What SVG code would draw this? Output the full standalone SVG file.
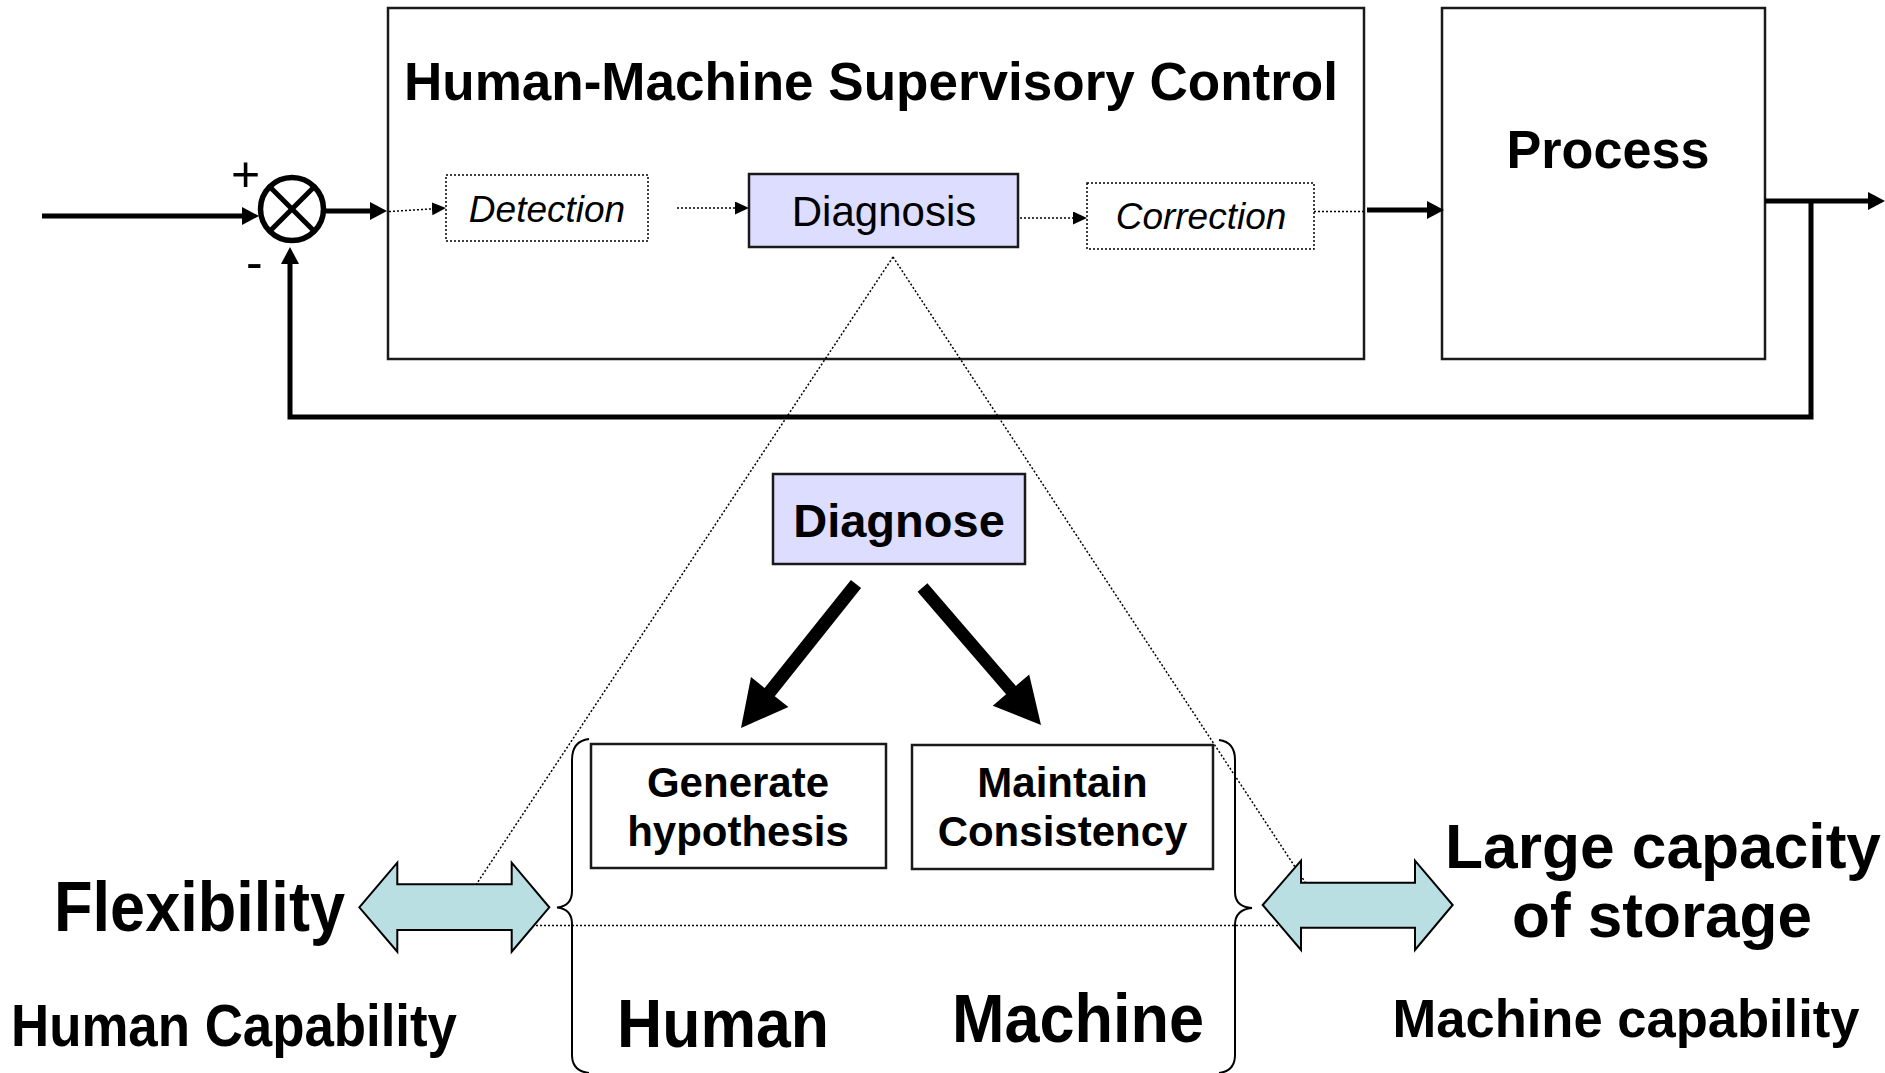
<svg xmlns="http://www.w3.org/2000/svg" width="1885" height="1073" viewBox="0 0 1885 1073">
<defs>
<style>
.t{font-family:"Liberation Sans",Arial,sans-serif;fill:#000}
.b{font-weight:bold}
.i{font-style:italic}
.box{fill:#fff;stroke:#1a1a1a;stroke-width:2.5}
.nb{fill:none;stroke:#1a1a1a;stroke-width:2.5}
.dbox{fill:#fff;stroke:#000;stroke-width:1.5;stroke-dasharray:2 2}
.lav{fill:#DDDDFF;stroke:#1a1a1a;stroke-width:2.5}
.thick{fill:none;stroke:#000;stroke-width:5}
.dot{fill:none;stroke:#000;stroke-width:1.5;stroke-dasharray:2 2}
.dbl{fill:#B9DFE2;stroke:#000;stroke-width:2;stroke-linejoin:miter}
.brace{fill:none;stroke:#000;stroke-width:2}
.big{fill:#000;stroke:none}
</style>
<marker id="ah" markerUnits="userSpaceOnUse" markerWidth="18" markerHeight="18" refX="2" refY="9" orient="auto"><path d="M0,0 L17,9 L0,18 z" fill="#000"/></marker>
<marker id="ad" markerUnits="userSpaceOnUse" markerWidth="15" markerHeight="14" refX="1" refY="6.5" orient="auto"><path d="M0,0 L14,6.5 L0,13 z" fill="#000"/></marker>
</defs>
<rect x="0" y="0" width="1885" height="1073" fill="#fff"/>

<g id="hmsc">
<rect class="box" x="388" y="8" width="976" height="351"/>
<text class="t b" x="871" y="100" font-size="54" text-anchor="middle" textLength="934" lengthAdjust="spacingAndGlyphs">Human-Machine Supervisory Control</text>
</g>
<g id="process">
<rect class="box" x="1442" y="8" width="323" height="351"/>
<text class="t b" x="1608" y="168" font-size="53" text-anchor="middle" textLength="203" lengthAdjust="spacingAndGlyphs">Process</text>
</g>

<g id="connectors">
<line class="thick" x1="42" y1="216" x2="244" y2="216" marker-end="url(#ah)"/>
<line class="thick" x1="324" y1="211" x2="372" y2="211" marker-end="url(#ah)"/>
<line class="thick" x1="1367" y1="210" x2="1429" y2="210" marker-end="url(#ah)"/>
<line class="thick" x1="1765" y1="201" x2="1870" y2="201" marker-end="url(#ah)"/>
<polyline class="thick" points="1811,199 1811,417 290,417 290,262" marker-end="url(#ah)"/>
<line class="dot" x1="389" y1="211.5" x2="433" y2="208.8" marker-end="url(#ad)"/>
<line class="dot" x1="677" y1="208" x2="736" y2="208" marker-end="url(#ad)"/>
<line class="dot" x1="1020" y1="218" x2="1074" y2="218" marker-end="url(#ad)"/>
<line class="dot" x1="1314" y1="211.5" x2="1364" y2="211.5"/>
<line class="dot" x1="893" y1="257" x2="476.5" y2="884"/>
<line class="dot" x1="893" y1="257" x2="1305" y2="882"/>
<line class="dot" x1="520" y1="925.5" x2="1290" y2="925.5"/>
<polygon class="big" points="861.1,588.1 774.8,696.2 788.4,707.1 741,728 751,677.1 764.6,688 850.9,579.9"/>
<polygon class="big" points="917.6,591.7 1006.1,694.3 992.8,705.8 1041,725 1029.2,674.4 1015.9,685.9 927.4,583.3"/>
</g>

<g id="sum">
<circle cx="292" cy="209" r="31.5" fill="#fff" stroke="#000" stroke-width="5.5"/>
<line x1="270" y1="187" x2="314" y2="231" stroke="#000" stroke-width="5"/>
<line x1="314" y1="187" x2="270" y2="231" stroke="#000" stroke-width="5"/>
<text class="t" x="245.7" y="190.5" font-size="50" text-anchor="middle">+</text>
<text class="t" x="246" y="278.5" font-size="50">-</text>
</g>

<g id="detection">
<rect class="dbox" x="446" y="175" width="202" height="66"/>
<text class="t i" x="547" y="222" font-size="37" text-anchor="middle">Detection</text>
</g>
<g id="diagnosis">
<rect class="lav" x="749" y="174" width="269" height="73"/>
<text class="t" x="884" y="226" font-size="42" text-anchor="middle">Diagnosis</text>
</g>
<g id="correction">
<rect class="dbox" x="1087" y="183" width="227" height="66"/>
<text class="t i" x="1201" y="229" font-size="37" text-anchor="middle">Correction</text>
</g>

<g id="diagnose">
<rect class="lav" x="773" y="474" width="252" height="90"/>
<text class="t b" x="899" y="537" font-size="47" text-anchor="middle">Diagnose</text>
</g>
<g id="generate">
<rect class="nb" x="591" y="744" width="295" height="124"/>
<text class="t b" x="738" y="797" font-size="42" text-anchor="middle">Generate</text>
<text class="t b" x="738" y="846" font-size="42" text-anchor="middle">hypothesis</text>
</g>
<g id="maintain">
<rect class="nb" x="912" y="745" width="301" height="124"/>
<text class="t b" x="1062.5" y="797" font-size="42" text-anchor="middle">Maintain</text>
<text class="t b" x="1062.5" y="846" font-size="42" text-anchor="middle">Consistency</text>
</g>

<g id="human-side">
<polygon class="dbl" points="359.3,907.3 397.3,862.7 397.3,884.3 511.7,884.3 511.7,862.7 549.3,907.3 511.7,951.7 511.7,930 397.3,930 397.3,951.7"/>
<path class="brace" d="M589,739 Q572,741 572,760 L572,891 Q572,906 557,907.5 Q572,909 572,924 L572,1055 Q572,1071 589,1073"/>
<text class="t b" x="199.5" y="931" font-size="71" text-anchor="middle" textLength="291" lengthAdjust="spacingAndGlyphs">Flexibility</text>
<text class="t b" x="234" y="1046" font-size="59" text-anchor="middle" textLength="446" lengthAdjust="spacingAndGlyphs">Human Capability</text>
<text class="t b" x="723" y="1047" font-size="69" text-anchor="middle" textLength="212" lengthAdjust="spacingAndGlyphs">Human</text>
</g>

<g id="machine-side">
<polygon class="dbl" points="1262.7,905 1301,860.7 1301,882.7 1415,882.7 1415,860.7 1452.7,905 1415,950 1415,927.7 1301,927.7 1301,950"/>
<path class="brace" d="M1219,740 Q1235,742 1235,760 L1235,892 Q1235,907 1252,908 Q1235,909.5 1235,925 L1235,1055 Q1235,1071 1219,1073"/>
<text class="t b" x="1078" y="1042" font-size="69" text-anchor="middle" textLength="252" lengthAdjust="spacingAndGlyphs">Machine</text>
<text class="t b" x="1663" y="868" font-size="63" text-anchor="middle" textLength="436" lengthAdjust="spacingAndGlyphs">Large capacity</text>
<text class="t b" x="1662" y="937" font-size="63" text-anchor="middle" textLength="300" lengthAdjust="spacingAndGlyphs">of storage</text>
<text class="t b" x="1626" y="1037" font-size="53" text-anchor="middle" textLength="467" lengthAdjust="spacingAndGlyphs">Machine capability</text>
</g>
</svg>
